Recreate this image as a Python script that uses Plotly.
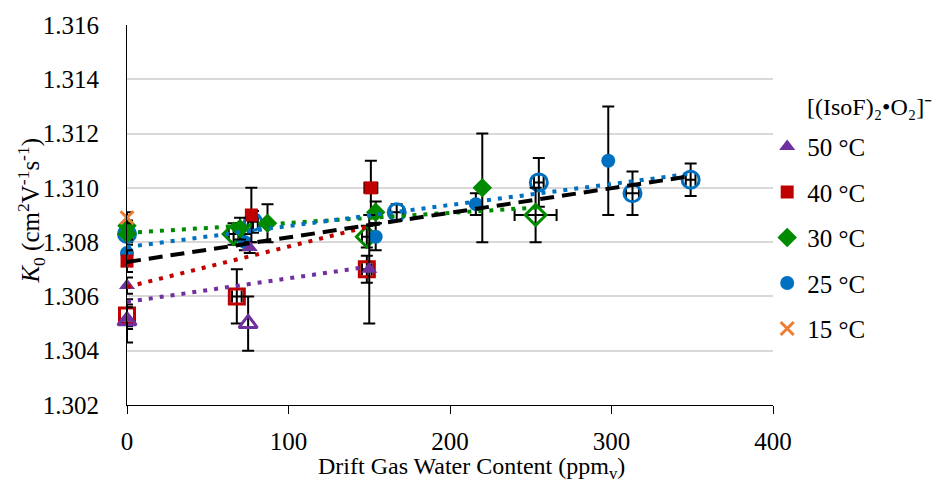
import plotly.graph_objects as go

# ---- data ----
# 50 °C
x50_f = [0, 0, 76, 150]
y50_f = [1.3064, 1.3052, 1.3078, 1.3070]
e50_f = [0.0003, 0.0004, 0.0002, 0.002]
x50_o = [0, 75]
y50_o = [1.3051, 1.3050]
e50_o = [0.0008, 0.001]
# 40 °C
x40_f = [0, 77, 151]
y40_f = [1.3073, 1.3090, 1.3100]
e40_f = [0.0004, 0.001, 0.001]
ex40_f = [0, 3, 4]
x40_o = [0, 68, 148.5]
y40_o = [1.3053, 1.3060, 1.3070]
e40_o = [0.0004, 0.001, 0.0005]
ex40_o = [0, 3, 3]
# 30 °C
x30_f = [0, 0, 70, 87, 154, 220]
y30_f = [1.3086, 1.3083, 1.3085, 1.3087, 1.3091, 1.3100]
e30_f = [0.0002, 0.0002, 0.0004, 0.0007, 0.0004, 0.002]
x30_o = [66, 148.5, 253]
y30_o = [1.3083, 1.3082, 1.3090]
e30_o = [0.0004, 0.0004, 0.001]
ex30_o = [3, 3, 13]
# 25 °C
x25_f = [0, 73, 154, 216, 298]
y25_f = [1.3076, 1.3080, 1.3082, 1.3094, 1.3110]
e25_f = [0.0003, 0.0003, 0.0005, 0.0004, 0.002]
x25_o = [0, 78, 167, 255, 313, 349]
y25_o = [1.3083, 1.30875, 1.3091, 1.3102, 1.3098, 1.3103]
e25_o = [0.0003, 0.0004, 0.0003, 0.0009, 0.0008, 0.0006]
ex25_o = [0, 3, 4, 3, 4, 3]
# 15 °C
x15 = [0]
y15 = [1.3089]
e15 = [0.0002]

# trendlines (end points)
t50_x, t50_y = [0, 150], [1.3058, 1.3071]
t40_x, t40_y = [0, 150], [1.30635, 1.30858]
t30_x, t30_y = [0, 255], [1.30834, 1.30928]
t25_x, t25_y = [0, 350], [1.30782, 1.31053]
tall_x, tall_y = [0, 350], [1.30727, 1.31044]

legend_title = "[(IsoF)₂•O₂]⁻"
legend_names = ["50 °C", "40 °C", "30 °C", "25 °C", "15 °C"]
y_ticks = [1.302, 1.304, 1.306, 1.308, 1.310, 1.312, 1.314, 1.316]
x_ticks = [0, 100, 200, 300, 400]

PURPLE, RED, GREEN, BLUE, ORANGE = "#7030A0", "#C00000", "#008A00", "#0070C0", "#ED7D31"
FONT = "Times New Roman, Liberation Serif, serif"

fig = go.Figure()

def err(arr):
    return dict(type="data", array=arr, visible=True, color="black", thickness=2, width=6)

def pts(x, y, ey, color, symbol, size, name=None, ex=None, legend=False, rank=None, open_=False):
    m = dict(color=color, symbol=symbol, size=size,
             line=dict(color=color, width=3 if open_ else 0))
    kw = dict(x=x, y=y, mode="markers", marker=m, error_y=err(ey), cliponaxis=False,
              showlegend=legend, name=name or "")
    if ex is not None:
        kw["error_x"] = err(ex)
    if legend:
        kw["legendrank"] = rank
        kw["legendgroup"] = name
    fig.add_trace(go.Scatter(**kw))

# open markers first
pts(x25_o, y25_o, e25_o, BLUE, "circle-open", 17, ex=ex25_o, open_=True)
pts(x40_o, y40_o, e40_o, RED, "square-open", 15, ex=ex40_o, open_=True)
pts(x50_o, y50_o, e50_o, PURPLE, "triangle-up-open", 16, open_=True)
pts(x30_o, y30_o, e30_o, GREEN, "diamond-open", 16, ex=ex30_o, open_=True)
# filled
pts(x25_f, y25_f, e25_f, BLUE, "circle", 14, name=legend_names[3], legend=True, rank=4)
pts(x40_f, y40_f, e40_f, RED, "square", 13, name=legend_names[1], ex=ex40_f, legend=True, rank=2)
pts(x30_f, y30_f, e30_f, GREEN, "diamond", 15, name=legend_names[2], legend=True, rank=3)
pts(x50_f, y50_f, e50_f, PURPLE, "triangle-up", 14, name=legend_names[0], legend=True, rank=1)
fig.add_trace(go.Scatter(x=x15, y=y15, mode="markers", name=legend_names[4], legendrank=5,
                         legendgroup=legend_names[4], cliponaxis=False,
                         marker=dict(color=ORANGE, symbol="x-thin", size=13,
                                     line=dict(color=ORANGE, width=3)),
                         error_y=err(e15)))

# trendlines
def trend(x, y, color, dash):
    fig.add_trace(go.Scatter(x=x, y=y, mode="lines", showlegend=False, hoverinfo="skip",
                             cliponaxis=False,
                             line=dict(color=color, width=4, dash=dash)))

trend(t50_x, t50_y, PURPLE, "4px,7px")
trend(t40_x, t40_y, RED, "4px,7px")
trend(t30_x, t30_y, GREEN, "4px,7px")
trend(t25_x, t25_y, BLUE, "4px,7px")
trend(tall_x, tall_y, "black", "14px,8px")

fig.update_layout(
    width=943, height=490,
    margin=dict(l=126.5, r=170, t=25, b=85),
    paper_bgcolor="white", plot_bgcolor="white",
    font=dict(family=FONT, size=25, color="black"),
    showlegend=True,
    legend=dict(x=0.991, xanchor="left", y=0.74, yanchor="top",
                font=dict(family=FONT, size=25, color="black"),
                tracegroupgap=10, itemwidth=30, bgcolor="rgba(0,0,0,0)"),
    xaxis=dict(range=[0, 400], tickvals=x_ticks, ticktext=[str(v) for v in x_ticks],
               showgrid=False, zeroline=False, showline=True, linecolor="black", linewidth=1,
               ticks="outside", ticklen=8, tickcolor="black", tickwidth=1,
               tickfont=dict(family=FONT, size=25, color="black"), ticklabelstandoff=6),
    yaxis=dict(range=[1.302, 1.316], tickvals=y_ticks, ticktext=[f"{v:.3f}" for v in y_ticks],
               showgrid=True, gridcolor="#D9D9D9", gridwidth=1.5, zeroline=False,
               showline=True, linecolor="black", linewidth=1, ticks="",
               tickfont=dict(family=FONT, size=25, color="black"), ticklabelstandoff=22),
    annotations=[
        dict(text=legend_title, xref="paper", yref="paper",
             x=(805 - 126.5) / 646.5, y=(405 - 107) / 380, xanchor="left", yanchor="middle",
             showarrow=False, font=dict(family=FONT, size=24)),
        dict(text="Drift Gas Water Content (ppm<sub>v</sub>)", xref="paper", yref="paper",
             x=0.533, y=-0.165, xanchor="center", yanchor="middle", showarrow=False,
             font=dict(family=FONT, size=24)),
        dict(text="<i>K</i><sub>0</sub> (cm<sup>2</sup>V<sup>-1</sup>s<sup>-1</sup>)",
             xref="paper", yref="paper", x=-0.149, y=0.511, xanchor="center", yanchor="middle",
             textangle=-90, showarrow=False, font=dict(family=FONT, size=25)),
    ],
)

fig.write_html("out.html")
